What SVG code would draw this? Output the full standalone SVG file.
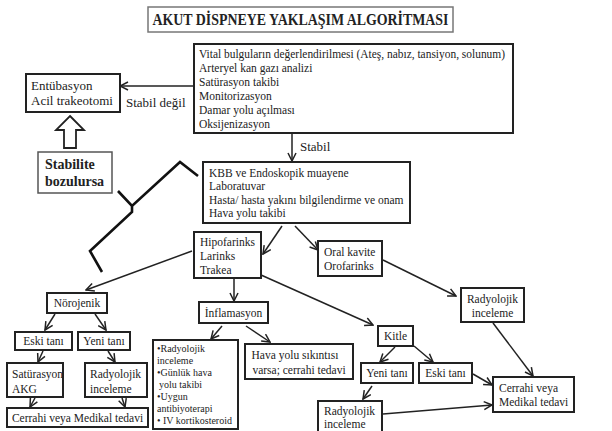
<svg xmlns="http://www.w3.org/2000/svg" width="612" height="431" viewBox="0 0 612 431" font-family="Liberation Serif, Times New Roman, serif">
<defs>
<marker id="ah" markerUnits="userSpaceOnUse" markerWidth="10" markerHeight="10" refX="9" refY="5" orient="auto">
<path d="M1,1 L9,5 L1,9" fill="none" stroke="#222" stroke-width="1.5"/>
</marker>
<style>
.b{fill:#fff;stroke:#222;stroke-width:2}
.t{font-size:11.5px;fill:#222}
.m{font-size:13px}
.s{font-size:10px}
.c{text-anchor:middle}
.cn line{stroke:#222;stroke-width:1.5;marker-end:url(#ah)}
</style>
</defs>
<rect width="612" height="431" fill="#fff"/>
<g id="title">
<rect x="148" y="7" width="305" height="25" fill="#fff" stroke="#777" stroke-width="1.5"/>
<text class="t c" x="300.5" y="25" style="font-size:16px;font-weight:bold" textLength="296" lengthAdjust="spacingAndGlyphs">AKUT DİSPNEYE YAKLAŞIM ALGORİTMASI</text>
</g>
<g class="cn" id="connectors">
<line x1="194" y1="86" x2="120" y2="86"/>
<line x1="292" y1="133" x2="292" y2="161"/>
<line x1="282" y1="226" x2="263" y2="254"/>
<line x1="295" y1="226" x2="318" y2="250"/>
<line x1="192" y1="251" x2="86" y2="290"/>
<line x1="234" y1="279" x2="234" y2="301"/>
<line x1="261" y1="275" x2="373" y2="325"/>
<line x1="383" y1="260" x2="456" y2="296"/>
<line x1="55" y1="314" x2="45" y2="330"/>
<line x1="95" y1="314" x2="106" y2="330"/>
<line x1="43" y1="351" x2="38" y2="362"/>
<line x1="108" y1="351" x2="115" y2="362"/>
<line x1="35" y1="398" x2="30" y2="407"/>
<line x1="122" y1="398" x2="125" y2="407"/>
<line x1="222" y1="326" x2="211" y2="339"/>
<line x1="246" y1="326" x2="270" y2="342"/>
<line x1="395" y1="347" x2="380" y2="362"/>
<line x1="414" y1="346" x2="433" y2="362"/>
<line x1="493" y1="323" x2="533" y2="376"/>
<line x1="473" y1="374" x2="492" y2="385"/>
<line x1="372" y1="386" x2="363" y2="399"/>
<line x1="383" y1="414" x2="492" y2="405"/>
<polygon points="70,116 84,130 76,130 76,148 64,148 64,130 56,130" fill="#fff" stroke="#222" stroke-width="1.8"/>
<path d="M198,176 L180,162 L132,206 L118,191 M132,206 L132,212 L90,251 L102,272" fill="none" stroke="#111" stroke-width="2.6"/>
</g>
<g id="vital">
<rect class="b" x="194" y="44" width="319" height="89"/>
<text class="t" x="199" y="58" textLength="306" lengthAdjust="spacingAndGlyphs">Vital bulguların değerlendirilmesi (Ateş, nabız, tansiyon, solunum)</text>
<text class="t" x="199" y="72">Arteryel kan gazı analizi</text>
<text class="t" x="199" y="86">Satürasyon takibi</text>
<text class="t" x="199" y="100">Monitorizasyon</text>
<text class="t" x="199" y="114">Damar yolu açılması</text>
<text class="t" x="199" y="128">Oksijenizasyon</text>
</g>
<g id="entubasyon">
<rect class="b" x="26" y="74" width="94" height="38"/>
<text class="t m" x="31" y="90">Entübasyon</text>
<text class="t m" x="31" y="105">Acil trakeotomi</text>
</g>
<text class="t m" x="126" y="107">Stabil değil</text>
<text class="t m" x="300" y="151">Stabil</text>
<g id="stabilite">
<rect x="38" y="152" width="74" height="41" fill="#fff" stroke="#555" stroke-width="1.5"/>
<text class="t" x="45" y="169" style="font-size:14px;font-weight:bold">Stabilite</text>
<text class="t" x="45" y="186" style="font-size:14px;font-weight:bold">bozulursa</text>
</g>
<g id="kbb">
<rect class="b" x="203" y="162" width="207" height="61"/>
<text class="t" x="209" y="177">KBB ve Endoskopik muayene</text>
<text class="t" x="209" y="190">Laboratuvar</text>
<text class="t" x="209" y="204">Hasta/ hasta yakını bilgilendirme ve onam</text>
<text class="t" x="209" y="217">Hava yolu takibi</text>
</g>
<g id="hipofarinks">
<rect class="b" x="194" y="232" width="67" height="46"/>
<text class="t" x="200" y="246">Hipofarinks</text>
<text class="t" x="200" y="260">Larinks</text>
<text class="t" x="200" y="274">Trakea</text>
</g>
<g id="oral">
<rect class="b" x="318" y="241" width="64" height="35"/>
<text class="t" x="324" y="256">Oral kavite</text>
<text class="t" x="324" y="270">Orofarinks</text>
</g>
<g id="norojenik">
<rect class="b" x="47" y="293" width="60" height="20"/>
<text class="t c" x="77" y="307">Nörojenik</text>
</g>
<g id="eski1">
<rect class="b" x="15" y="332" width="57" height="18"/>
<text class="t c" x="43.5" y="345">Eski tanı</text>
</g>
<g id="yeni1">
<rect class="b" x="78" y="332" width="52" height="18"/>
<text class="t c" x="104" y="345">Yeni tanı</text>
</g>
<g id="saturasyon">
<rect class="b" x="7" y="363" width="56" height="34"/>
<text class="t" x="12" y="378">Satürasyon</text>
<text class="t" x="12" y="393">AKG</text>
</g>
<g id="radyolojik1">
<rect class="b" x="85" y="363" width="62" height="34"/>
<text class="t" x="90" y="378">Radyolojik</text>
<text class="t" x="90" y="393">inceleme</text>
</g>
<g id="cerrahi1">
<rect class="b" x="7" y="408" width="141" height="19"/>
<text class="t c" x="77.5" y="422">Cerrahi veya Medikal tedavi</text>
</g>
<g id="inflamasyon">
<rect class="b" x="199" y="302" width="69" height="21"/>
<text class="t c" x="233.5" y="317">İnflamasyon</text>
</g>
<g id="tedaviler">
<rect class="b" x="153" y="340" width="85" height="89"/>
<text class="t s" x="157" y="352">•Radyolojik</text>
<text class="t s" x="157" y="364">inceleme</text>
<text class="t s" x="157" y="376">•Günlük hava</text>
<text class="t s" x="159" y="388">yolu takibi</text>
<text class="t s" x="157" y="400">•Uygun</text>
<text class="t s" x="157" y="412">antibiyoterapi</text>
<text class="t s" x="157" y="424">• IV kortikosteroid</text>
</g>
<g id="havayolu">
<rect class="b" x="245" y="344" width="108" height="35"/>
<text class="t c" x="295" y="359">Hava yolu sıkıntısı</text>
<text class="t c" x="299" y="374">varsa; cerrahi tedavi</text>
</g>
<g id="kitle">
<rect class="b" x="378" y="326" width="35" height="20"/>
<text class="t c" x="395.5" y="340">Kitle</text>
</g>
<g id="yeni2">
<rect class="b" x="361" y="363" width="52" height="20"/>
<text class="t c" x="387" y="377">Yeni tanı</text>
</g>
<g id="eski2">
<rect class="b" x="419" y="363" width="53" height="20"/>
<text class="t c" x="445.5" y="377">Eski tanı</text>
</g>
<g id="radyolojik2">
<rect class="b" x="461" y="288" width="63" height="34"/>
<text class="t c" x="492.5" y="303">Radyolojik</text>
<text class="t c" x="492.5" y="317">inceleme</text>
</g>
<g id="cerrahi2">
<rect class="b" x="493" y="377" width="81" height="35"/>
<text class="t" x="499" y="392">Cerrahi veya</text>
<text class="t" x="499" y="406">Medikal tedavi</text>
</g>
<g id="radyolojik3">
<rect class="b" x="318" y="401" width="64" height="34"/>
<text class="t" x="324" y="415">Radyolojik</text>
<text class="t" x="324" y="428">inceleme</text>
</g>
</svg>
